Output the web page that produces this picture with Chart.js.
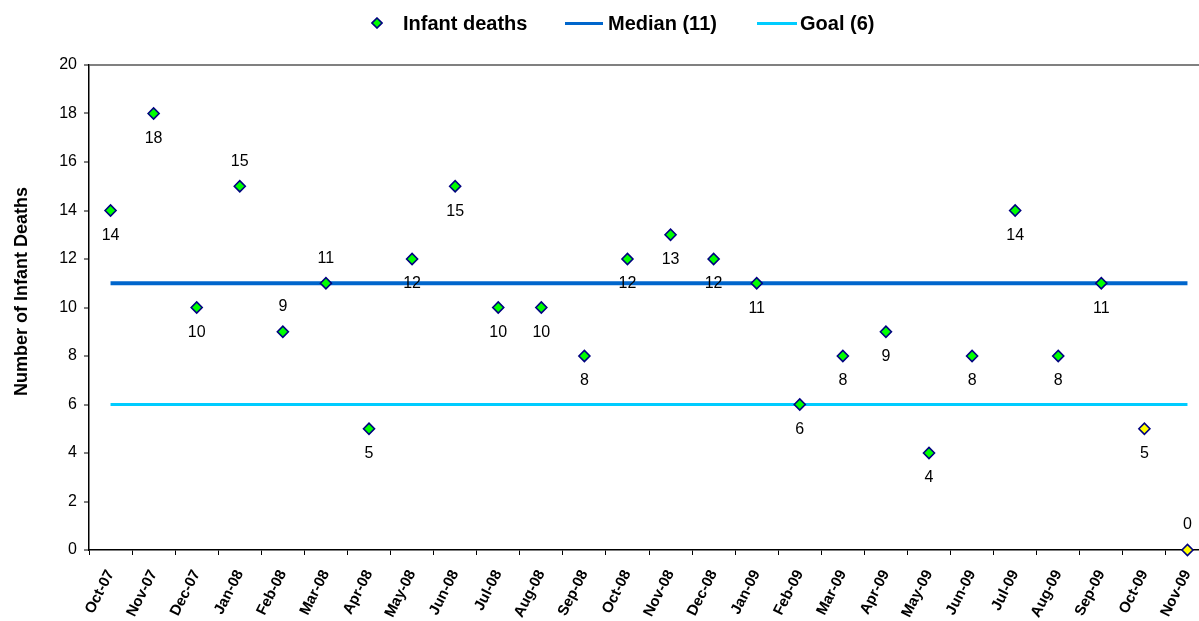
<!DOCTYPE html>
<html>
<head>
<meta charset="utf-8">
<script src="https://cdn.jsdelivr.net/npm/chart.js@4/dist/chart.umd.min.js"></script>
<style>
html,body{margin:0;padding:0;background:#fff;overflow:hidden;width:1199px;height:621px}
#wrap{position:absolute;left:0;top:0;width:1230px;height:621px}
#legend{position:absolute;top:10px;left:0;width:1199px;height:26px;font:bold 20px "Liberation Sans",Arial,sans-serif;color:#000}
.item{position:absolute;top:0;height:26px;display:flex;align-items:center;white-space:nowrap}
.line{display:inline-block;height:3px}
</style>
</head>
<body>
<div id="wrap"><canvas id="c"></canvas></div>
<div id="legend"></div>
<script>
// ---- data ----
const months = ["Oct-07","Nov-07","Dec-07","Jan-08","Feb-08","Mar-08","Apr-08","May-08","Jun-08","Jul-08","Aug-08","Sep-08","Oct-08","Nov-08","Dec-08","Jan-09","Feb-09","Mar-09","Apr-09","May-09","Jun-09","Jul-09","Aug-09","Sep-09","Oct-09","Nov-09"];
const infantDeaths = [14,18,10,15,9,11,5,12,15,10,10,8,12,13,12,11,6,8,9,4,8,14,8,11,5,0];
const medianValues = [11,11,11,11,11,11,11,11,11,11,11,11,11,11,11,11,11,11,11,11,11,11,11,11,11,11];
const goalValues = [6,6,6,6,6,6,6,6,6,6,6,6,6,6,6,6,6,6,6,6,6,6,6,6,6,6];
const yTicks = [0,2,4,6,8,10,12,14,16,18,20];
const seriesNames = ["Infant deaths","Median (11)","Goal (6)"];
const axisTitle = "Number of Infant Deaths";

// ---- styles ----
const labelSide = ["below","below","below","above","above","above","below","below","below","below","below","below","below","below","below","below","below","below","below","below","below","below","below","below","below","above"];
const provisional = [false,false,false,false,false,false,false,false,false,false,false,false,false,false,false,false,false,false,false,false,false,false,false,false,true,true];
const GREEN = "#00FF00", YELLOW = "#FFFF00", NAVY = "#000080";
const MEDIAN_C = "#0066CC", GOAL_C = "#00CCFF";
const FONT = '"Liberation Sans", Arial, Helvetica, sans-serif';

// ---- legend (HTML) ----
const leg = document.getElementById('legend');
const legendItems = [
  {left: 371, marker: '<svg width="12" height="12" style="margin-right:20px"><polygon points="6,1 11,6 6,11 1,6" fill="'+GREEN+'" stroke="'+NAVY+'" stroke-width="1.6"/></svg>'},
  {left: 565, marker: '<span class="line" style="width:38px;background:'+MEDIAN_C+';margin-right:5px"></span>'},
  {left: 757, marker: '<span class="line" style="width:40px;background:'+GOAL_C+';margin-right:3px"></span>'}
];
legendItems.forEach((it,i)=>{
  const d = document.createElement('div');
  d.className='item'; d.style.left = it.left+'px';
  d.innerHTML = it.marker + '<span>'+seriesNames[i]+'</span>';
  leg.appendChild(d);
});

// ---- point labels + axis title plugin ----
const pointLabels = {
  id: 'pointLabels',
  afterDatasetsDraw(chart){
    const meta = chart.getDatasetMeta(0);
    const ctx = chart.ctx;
    ctx.save();
    ctx.font = '16px ' + FONT;
    ctx.fillStyle = '#000';
    ctx.textAlign = 'center';
    ctx.textBaseline = 'middle';
    meta.data.forEach((pt,i)=>{
      const off = labelSide[i] === 'above' ? -25 : 25;
      ctx.fillText(String(infantDeaths[i]), pt.x, pt.y + off);
    });
    ctx.restore();
  }
};
const yTitle = {
  id: 'yTitle',
  afterDraw(chart){
    const a = chart.chartArea, ctx = chart.ctx;
    ctx.save();
    ctx.translate(22, (a.top + a.bottom) / 2 - 16);
    ctx.rotate(-Math.PI / 2);
    ctx.font = 'bold 18px ' + FONT;
    ctx.fillStyle = '#000';
    ctx.textAlign = 'center';
    ctx.textBaseline = 'middle';
    ctx.fillText(axisTitle, 0, 0);
    ctx.restore();
  }
};

new Chart(document.getElementById('c'), {
  type: 'line',
  data: {
    labels: months,
    datasets: [
      {
        label: seriesNames[0],
        data: infantDeaths,
        showLine: false,
        pointStyle: 'rectRot',
        pointRadius: 5.5,
        pointHoverRadius: 5.5,
        pointBorderWidth: 1.6,
        pointBorderColor: NAVY,
        pointBackgroundColor: provisional.map(p => p ? YELLOW : GREEN),
        clip: false
      },
      {
        label: seriesNames[1],
        data: medianValues,
        borderColor: MEDIAN_C,
        borderWidth: 4,
        pointRadius: 0,
        fill: false,
        tension: 0
      },
      {
        label: seriesNames[2],
        data: goalValues,
        borderColor: GOAL_C,
        borderWidth: 3,
        pointRadius: 0,
        fill: false,
        tension: 0
      }
    ]
  },
  options: {
    responsive: true,
    maintainAspectRatio: false,
    animation: false,
    events: [],
    layout: { padding: { top: 65, right: 21, left: 0, bottom: 0 } },
    plugins: { legend: { display: false }, tooltip: { enabled: false } },
    scales: {
      x: {
        type: 'category',
        offset: true,
        grid: { display: true, drawOnChartArea: false, offset: true, tickColor: '#000', tickLength: 5, tickWidth: 1 },
        border: { color: '#000', width: 1.5 },
        ticks: { font: { family: FONT, size: 15, weight: 'bold' }, color: '#000', minRotation: 63, maxRotation: 63, autoSkip: false, padding: 12 },
        afterFit(s){ s.height = 71; }
      },
      y: {
        min: 0, max: 20,
        afterBuildTicks(s){ s.ticks = yTicks.map(v => ({value: v})); },
        grid: {
          color: c => (c.tick && c.tick.value === 20) ? '#808080' : 'rgba(0,0,0,0)',
          lineWidth: 2,
          tickColor: '#000', tickLength: 5, tickWidth: 1
        },
        border: { color: '#000', width: 1.5 },
        ticks: { font: { family: FONT, size: 16 }, color: '#000', padding: 7 },
        title: { display: false },
        afterFit(s){ s.width = 89; }
      }
    }
  },
  plugins: [pointLabels, yTitle]
});
</script>
</body>
</html>
